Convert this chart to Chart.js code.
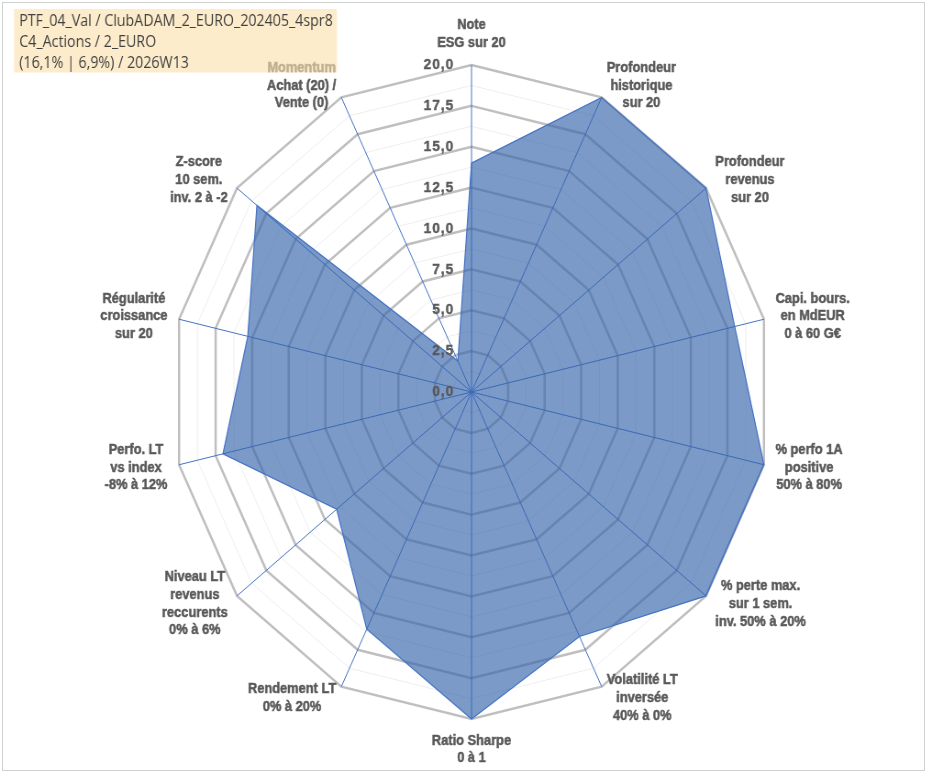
<!DOCTYPE html>
<html>
<head>
<meta charset="utf-8">
<script src="https://cdn.jsdelivr.net/npm/chart.js@4.4.1/dist/chart.umd.min.js"></script>
<style>
  html, body { margin: 0; padding: 0; background: #fff; overflow: hidden; }
  #frame { position: absolute; left: 2px; top: 2px; width: 923px; height: 769px; border: 1px solid #d0d0d0; box-sizing: border-box; }
  #stretch { position: absolute; left: 0; top: 0; width: 1016px; height: 776px; transform: scaleX(0.9173); transform-origin: 0 0; }
</style>
</head>
<body>
<div id="frame"></div>
<div id="stretch"><canvas id="radarChart"></canvas></div>
<script>
const axisLabels = [
    ['Note', 'ESG sur 20'],
    ['Profondeur', 'historique', 'sur 20'],
    ['Profondeur', 'revenus', 'sur 20'],
    ['Capi. bours.', 'en MdEUR', '0 à 60 G€'],
    ['% perfo 1A', 'positive', '50% à 80%'],
    ['% perte max.', 'sur 1 sem.', 'inv. 50% à 20%'],
    ['Volatilité LT', 'inversée', '40% à 0%'],
    ['Ratio Sharpe', '0 à 1'],
    ['Rendement LT', '0% à 20%'],
    ['Niveau LT', 'revenus', 'reccurents', '0% à 6%'],
    ['Perfo. LT', 'vs index', '-8% à 12%'],
    ['Régularité', 'croissance', 'sur 20'],
    ['Z-score', '10 sem.', 'inv. 2 à -2'],
    ['Momentum', 'Achat (20) /', 'Vente (0)']
]
const scores = [14.0, 20, 20, 18.0, 20, 20, 16.6, 20, 16.1, 11.5, 17.0, 15.3, 18.3, 2.1]
const tickValues = [0, 2.5, 5, 7.5, 10, 12.5, 15, 17.5, 20]
const tickLabels = ['0,0', '2,5', '5,0', '7,5', '10,0', '12,5', '15,0', '17,5', '20,0']
const titleLines = [
    'PTF_04_Val / ClubADAM_2_EURO_202405_4spr8',
    'C4_Actions / 2_EURO',
    '(16,1% | 6,9%) / 2026W13'
]

const labelFont = 'bold 14px "Liberation Sans", Arial, sans-serif'
const labelLine = 17.7

// Excel-like labels: ticks left of the top spoke, point labels beside each spoke end, title box on top
const excelLabels = {
    id: 'excelLabels',
    afterDatasetsDraw(chart) {
        const scale = chart.scales.r
        const ctx = chart.ctx
        ctx.save()
        ctx.font = 'bold 15px "Liberation Sans", Arial, sans-serif'
        ctx.letterSpacing = '1px'
        ctx.fillStyle = '#595959'
        ctx.strokeStyle = '#595959'
        ctx.lineWidth = 0.4
        ctx.textAlign = 'right'
        ctx.textBaseline = 'middle'
        tickValues.forEach((v, i) => {
            const y = scale.yCenter - scale.getDistanceFromCenterForValue(v)
            ctx.fillText(tickLabels[i], scale.xCenter - 19, y)
            ctx.strokeText(tickLabels[i], scale.xCenter - 19, y)
        })
        ctx.restore()
    },
    afterDraw(chart) {
        const scale = chart.scales.r
        const ctx = chart.ctx
        const n = axisLabels.length
        ctx.save()
        ctx.font = labelFont
        ctx.fillStyle = '#595959'
        ctx.strokeStyle = '#595959'
        ctx.lineWidth = 0.5
        ctx.textAlign = 'center'
        ctx.textBaseline = 'middle'
        axisLabels.forEach((lines, i) => {
            const p = scale.getPointPosition(i, scale.drawingArea + 13)
            const angle = 2 * Math.PI * i / n
            const s = Math.sin(angle), c = Math.cos(angle)
            const w = Math.max(...lines.map(t => ctx.measureText(t).width))
            const h = lines.length * labelLine
            let cx = p.x, cy = p.y
            if (Math.abs(s) < 0.01) {
                cy = c > 0 ? p.y - h / 2 : p.y + h / 2
            } else {
                cx = p.x + Math.sign(s) * w / 2
            }
            lines.forEach((t, k) => {
                const y = cy - h / 2 + labelLine * (k + 0.5)
                ctx.fillText(t, cx, y)
                ctx.strokeText(t, cx, y)
            })
        })

        // title box (semi transparent, drawn over the Momentum label like in Excel)
        ctx.fillStyle = 'rgba(252, 226, 174, 0.64)'
        ctx.fillRect(15.3, 9, 352, 63.5)
        ctx.fillStyle = '#3f3f3f'
        ctx.textAlign = 'left'
        ctx.font = '15.5px "Open Sans", sans-serif'
        titleLines.forEach((t, k) => ctx.fillText(t, 21, 22 + k * 21, 342))
        ctx.restore()
    }
}

const radarCanvas = document.getElementById('radarChart')
const ctx1 = radarCanvas.getContext('2d')

var radarChart = new Chart(ctx1, {
    type: 'radar',
    data: {
        labels: axisLabels,
        datasets: [{
            data: scores,
            borderColor: 'rgb(68, 114, 196)',
            borderWidth: 1.2,
            backgroundColor: 'rgba(52, 100, 170, 0.65)',
            fill: true,
            pointRadius: 0,
            pointHoverRadius: 0
        }]
    },
    options: {
        responsive: true,
        maintainAspectRatio: false,
        animation: false,
        layout: {
            padding: {left: 187, right: 175, top: 65, bottom: 57}
        },
        plugins: {
            legend: {display: false},
            tooltip: {enabled: false}
        },
        scales: {
            r: {
                min: 0,
                max: 20,
                ticks: {
                    stepSize: 1.25,
                    display: false
                },
                pointLabels: {display: false},
                angleLines: {
                    color: 'rgb(68, 114, 196)',
                    lineWidth: 1
                },
                grid: {
                    color: (c) => c.index % 2 === 0 ? 'rgb(191, 191, 191)' : 'rgb(238, 238, 238)',
                    lineWidth: (c) => c.index % 2 === 0 ? 2.5 : 1
                }
            }
        }
    },
    plugins: [excelLabels]
})
</script>
</body>
</html>
